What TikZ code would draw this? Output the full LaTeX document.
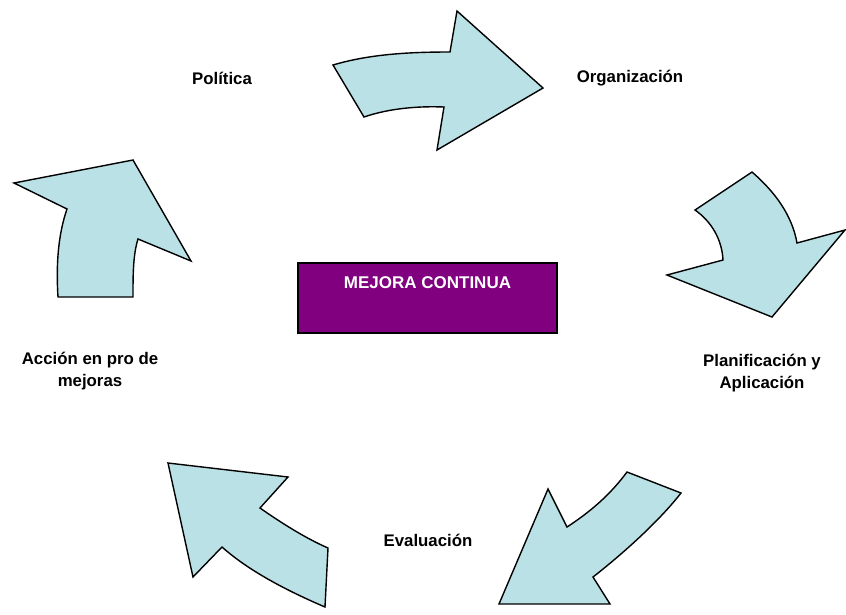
\documentclass[tikz,border=0pt]{standalone}
\usepackage{fontspec}
\setmainfont{Liberation Sans}
\usepackage{tikz}
\usetikzlibrary{positioning}
\definecolor{arrowfill}{RGB}{186,225,229}
\definecolor{boxpurple}{RGB}{128,0,128}

\begin{document}
\begin{tikzpicture}[x=1pt,y=-1pt,
    lbl/.style={font=\fontsize{16.8}{21.5}\selectfont\bfseries,align=center,inner sep=1pt},
    cyclearrow/.style={draw=black,line width=1.4pt,fill=arrowfill,line join=miter}]
    \useasboundingbox (0,0) rectangle (846,614);

    % central box
    \node[draw=black,line width=1.6pt,fill=boxpurple,minimum width=259pt,minimum height=70pt,inner sep=0pt] (box) at (427.5,298) {};
    \node[font=\fontsize{17}{20}\selectfont\bfseries,text=white,below=11pt of box.north] (mc) {MEJORA CONTINUA};

    % stage labels
    \node[lbl] (pol) at (222,78) {Política};
    \node[lbl] (org) at (630,78) {Organización};
    \node[lbl] (pla) at (762,373) {Planificación y\\Aplicación};
    \node[lbl] (eva) at (428,540) {Evaluación};
    \node[lbl] (acc) at (90,371) {Acción en pro de\\mejoras};

    % arrows between stages
    \draw[cyclearrow] (333,65) .. controls (370,54) and (410,52) .. (450,52)
        -- (457,11) -- (543,88) -- (437,150) -- (444,107)
        .. controls (420,106) and (390,108) .. (364,117) -- cycle;
    \draw[cyclearrow] (695,210) -- (752,172) .. controls (775,192) and (792,215) .. (797,243)
        -- (845,230) -- (772,317) -- (667,275) -- (723,260)
        .. controls (722,240) and (712,222) .. (695,210) -- cycle;
    \draw[cyclearrow] (627,472) -- (681,493) .. controls (660,520) and (625,552) .. (593,577)
        -- (610,604) -- (499,604) -- (548,489) -- (567,527)
        .. controls (590,512) and (610,495) .. (627,472) -- cycle;
    \draw[cyclearrow] (168,463) -- (288,477) -- (260,508)
        .. controls (280,522) and (305,538) .. (328,548) -- (325,607)
        .. controls (290,592) and (250,572) .. (222,547) -- (193,577) -- cycle;
    \draw[cyclearrow] (14,183) -- (133,160) -- (191,261) -- (138,239)
        .. controls (133,255) and (133,275) .. (133,297) -- (58,297)
        .. controls (56,265) and (58,235) .. (67,209) -- cycle;
\end{tikzpicture}
\end{document}
